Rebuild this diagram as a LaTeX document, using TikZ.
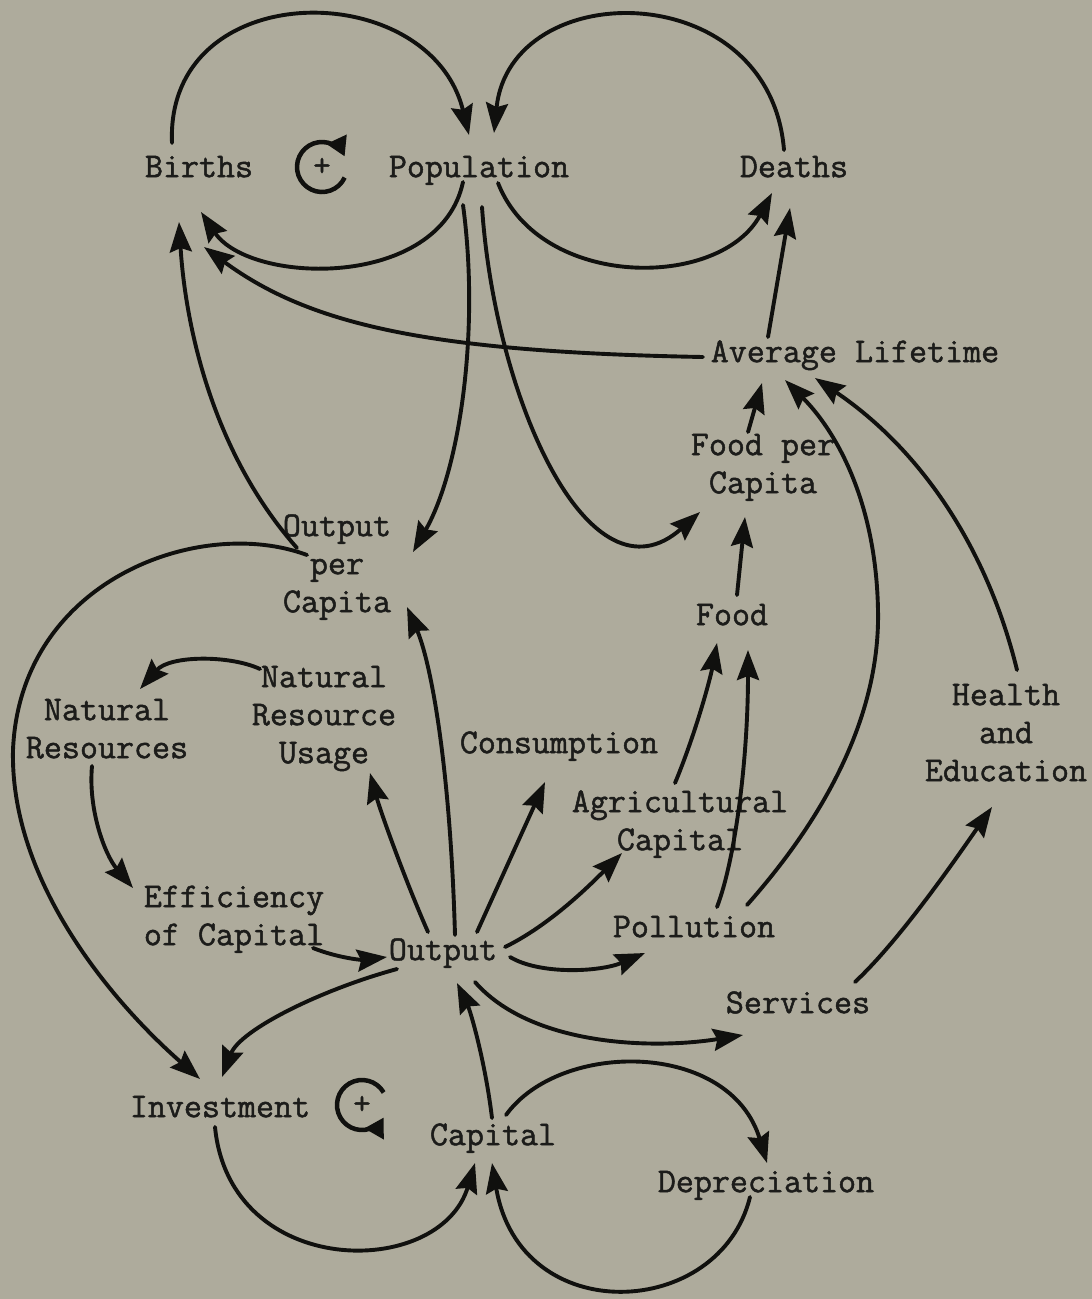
\documentclass[tikz,border=0pt]{standalone}
\usepackage{fontspec}
\newfontfamily\tw{Latin Modern Mono}[FakeBold=1.4]
\usetikzlibrary{arrows.meta}
\definecolor{bg}{RGB}{174,171,156}
\definecolor{ink}{RGB}{16,16,14}
\definecolor{txt}{RGB}{28,28,26}
\newcommand\tsr{\rule[-8pt]{0pt}{30pt}}
\begin{document}
\begin{tikzpicture}[x=1pt,y=-1pt,
  lbl/.style={anchor=north, inner sep=0pt, align=center, text=txt,
    font=\tw\fontsize{35pt}{38pt}\selectfont},
  arr/.style={draw=ink, line width=3.9pt, line cap=round,
    -{Stealth[length=30pt,width=22pt,inset=4pt]}},
  looparr/.style={draw=ink, line width=4.5pt,
    -{Triangle[length=19pt,width=21pt]}},
  plus/.style={inner sep=0pt, text=txt, font=\tw\fontsize{34pt}{34pt}\selectfont}]
\path[use as bounding box, fill=bg] (0,0) rectangle (1092,1299);

% labels
\node[lbl] (births) at (199,155) {\tsr Births};
\node[lbl] (pop) at (479,155) {\tsr Population};
\node[lbl] (deaths) at (794,155) {\tsr Deaths};
\node[lbl] (avg) at (855,340) {\tsr Average Lifetime};
\node[lbl] (fpc) at (763,433) {\tsr Food per\\\tsr Capita};
\node[lbl] (opc) at (337,514) {\tsr Output\\\tsr per\\\tsr Capita};
\node[lbl] (food) at (732,603) {\tsr Food};
\node[lbl] (nru) at (324,665) {\tsr Natural\\\tsr Resource\\\tsr Usage};
\node[lbl] (nr) at (107,698) {\tsr Natural\\\tsr Resources};
\node[lbl] (health) at (1006,683) {\tsr Health\\\tsr and\\\tsr Education};
\node[lbl] (cons) at (559,731) {\tsr Consumption};
\node[lbl] (agcap) at (680,790) {\tsr Agricultural\\\tsr Capital};
\node[lbl] (eff) at (234,885) {\tsr Efficiency\\\tsr of Capital};
\node[lbl] (out) at (443,938) {\tsr Output};
\node[lbl] (poll) at (694,915) {\tsr Pollution};
\node[lbl] (serv) at (798,991) {\tsr Services};
\node[lbl] (inv) at (220,1095) {\tsr Investment};
\node[lbl] (cap) at (493,1123) {\tsr Capital};
\node[lbl] (dep) at (766,1170) {\tsr Depreciation};

% loop markers
\node[plus] (plusA) at (322,167) {+};
\node[plus] (plusB) at (362,1105) {+};
\draw[looparr] ([shift={(25:25)}]plusA.center) arc[start angle=25, end angle=335, radius=25];
\draw[looparr] ([shift={(-30:25)}]plusB.center) arc[start angle=-30, end angle=-330, radius=25];

% connectors
\draw[arr] ([shift={(-27,-12)}]births.north) .. controls +(-7,-168) and +(-39,-160) .. ([shift={(-10,-20)}]pop.north);
\draw[arr] ([shift={(-10,-5)}]deaths.north) .. controls +(-14,-175) and +(16,-158) .. ([shift={(15,-22)}]pop.north);
\draw[arr] ([shift={(-16,27)}]pop.north) .. controls +(-23,108) and +(49,73) .. ([shift={(2,57)}]births.north);
\draw[arr] ([shift={(19,28)}]pop.north) .. controls +(42,107) and +(-52,97) .. ([shift={(-22,38)}]deaths.north);
\draw[arr] ([shift={(-152,17)}]avg.north) .. controls +(-273,-5) and +(106,78) .. ([shift={(5,92)}]births.north);
\draw[arr] ([shift={(-87,-3)}]avg.north) -- ([shift={(-4,53)}]deaths.north);
\draw[arr] ([shift={(-40,34)}]opc.north) .. controls +(-87,-98) and +(6,98) .. ([shift={(-20,67)}]births.north);
\draw[arr] ([shift={(-16,50)}]pop.north) .. controls +(17,125) and +(47,-82) .. ([shift={(76,38)}]opc.north);
\draw[arr] ([shift={(3,52)}]pop.north) .. controls +(13,193) and +(-110,98) .. ([shift={(-63,79)}]fpc.north);
\draw[arr] ([shift={(-15,-1)}]fpc.north) -- ([shift={(-93,43)}]avg.north);
\draw[arr] ([shift={(5,-8)}]food.north) -- ([shift={(-18,84)}]fpc.north);
\draw[arr] ([shift={(53,-10)}]poll.north) .. controls +(93,-105) and +(2,90) .. ++(131,-295) .. controls +(-2,-110) and +(50,50) .. ([shift={(-70,40)}]avg.north);
\draw[arr] ([shift={(11,-13)}]health.north) .. controls +(-30,-123) and +(105,71) .. ([shift={(-40,38)}]avg.north);
\draw[arr] ([shift={(-30,41)}]opc.north) .. controls +(-107,-40) and +(7,-170) .. ++(-294,195) .. controls +(-3,130) and +(-90,-79) .. ([shift={(-20,-16)}]inv.north);
\draw[arr] ([shift={(-64,4)}]nru.north) .. controls +(-30,-14) and +(30,-34) .. ([shift={(33,-9)}]nr.north);
\draw[arr] ([shift={(-15,68)}]nr.north) .. controls +(-4,44) and +(-28,-33) .. ([shift={(-101,3)}]eff.north);
\draw[arr] ([shift={(79,63)}]eff.north) .. controls +(25,10) and +(-25,3) .. ([shift={(-56,19)}]out.north);
\draw[arr] ([shift={(-15,-6)}]out.north) .. controls +(-23,-52) and +(10,37) .. ([shift={(46,108)}]nru.north);
\draw[arr] ([shift={(12,-3)}]out.north) .. controls +(-5,-175) and +(23,53) .. ([shift={(70,93)}]opc.north);
\draw[arr] ([shift={(34,-6)}]out.north) -- ([shift={(-14,51)}]cons.north);
\draw[arr] ([shift={(62,9)}]out.north) .. controls +(45,-22) and +(-32,32) .. ([shift={(-58,63)}]agcap.north);
\draw[arr] ([shift={(67,19)}]out.north) .. controls +(30,18) and +(-45,19) .. ([shift={(-49,38)}]poll.north);
\draw[arr] ([shift={(32,44)}]out.north) .. controls +(55,63) and +(-93,15) .. ([shift={(-55,44)}]serv.north);
\draw[arr] ([shift={(-46,31)}]out.north) .. controls +(-77,21) and +(18,-47) .. ([shift={(2,-18)}]inv.north);
\draw[arr] ([shift={(-5,-7)}]agcap.north) .. controls +(20,-48) and +(-7,37) .. ([shift={(-15,40)}]food.north);
\draw[arr] ([shift={(23,-8)}]poll.north) .. controls +(18,-47) and +(0,110) .. ([shift={(16,47)}]food.north);
\draw[arr] ([shift={(57,-9)}]serv.north) .. controls +(45,-42) and +(-37,53) .. ([shift={(-14,124)}]health.north);
\draw[arr] ([shift={(-1,-5)}]cap.north) .. controls +(-7,-58) and +(13,27) .. ([shift={(14,45)}]out.north);
\draw[arr] ([shift={(-5,32)}]inv.north) .. controls +(15,153) and +(-35,117) .. ([shift={(-18,40)}]cap.north);
\draw[arr] ([shift={(13,-8)}]cap.north) .. controls +(54,-75) and +(-37,-123) .. ([shift={(1,-7)}]dep.north);
\draw[arr] ([shift={(-16,27)}]dep.north) .. controls +(-30,123) and +(28,167) .. ([shift={(-1,40)}]cap.north);
\end{tikzpicture}
\end{document}
